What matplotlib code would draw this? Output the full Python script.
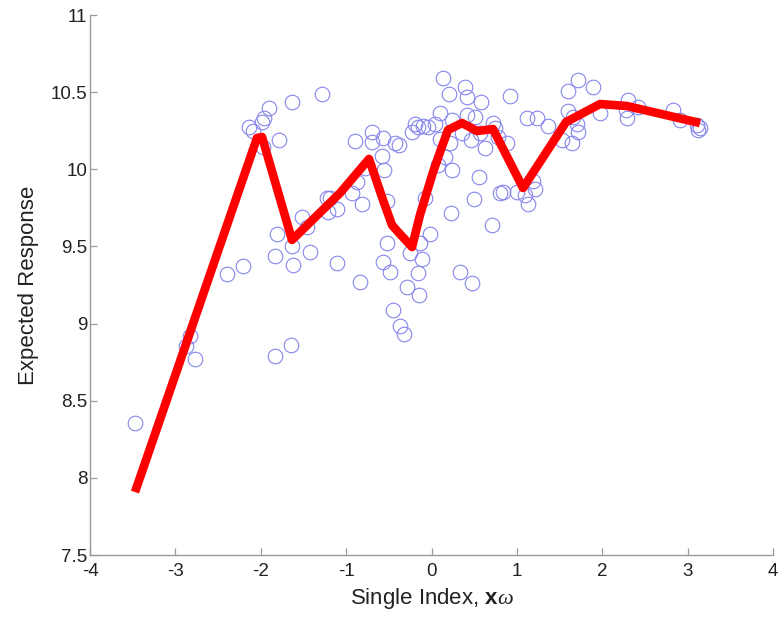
import matplotlib
matplotlib.use("Agg")
import matplotlib.pyplot as plt

plt.rcParams['font.family'] = ['Liberation Sans', 'DejaVu Sans']
plt.rcParams['mathtext.fontset'] = 'custom'
plt.rcParams['mathtext.rm'] = 'Liberation Serif'
plt.rcParams['mathtext.bf'] = 'Liberation Sans:bold'
plt.rcParams['mathtext.it'] = 'Liberation Serif:italic'

# Observed points (single index, response)
obs_x = [-3.473, -2.876, -2.829, -2.770, -2.395, -2.208, -2.138, -2.091, -1.974, -1.985,
         -1.962, -1.903, -1.786, -1.634, -1.283, -1.810, -1.833, -1.634, -1.622, -1.517,
         -1.458, -1.423, -1.833, -1.646, -1.224, -1.189, -1.212, -1.107, -1.107, -0.931,
         -0.873, -0.814, -0.837, -0.896, -0.779, -0.697, -0.697, -0.568, -0.580, -0.556,
         -0.428, -0.381, -0.521, -0.521, -0.568, -0.486, -0.451, -0.369, -0.322, -0.287,
         -0.252, -0.158, -0.146, -0.135, -0.111, -0.018, -0.076, -0.228, -0.193, -0.158,
         -0.100, -0.041, 0.041, 0.135, 0.205, 0.100, 0.100, 0.217, 0.240, 0.158,
         0.076, 0.240, 0.357, 0.392, 0.416, 0.416, 0.463, 0.509, 0.568, 0.580,
         0.627, 0.556, 0.498, 0.228, 0.709, 0.334, 0.474, 0.720, 0.744, 0.779,
         0.884, 0.919, 0.802, 0.837, 1.001, 1.095, 1.130, 1.212, 1.189, 1.119,
         1.236, 1.365, 1.599, 1.716, 1.892, 1.599, 1.657, 1.704, 1.716, 1.646,
         1.529, 1.974, 2.302, 2.419, 2.278, 2.290, 2.829, 2.911, 3.110, 3.145,
         3.122]
obs_y = [8.356, 8.855, 8.920, 8.770, 9.321, 9.373, 10.274, 10.248, 10.144, 10.307,
         10.332, 10.397, 10.190, 10.436, 10.488, 9.581, 9.438, 9.503, 9.380, 9.691,
         9.626, 9.464, 8.790, 8.861, 9.814, 9.814, 9.723, 9.743, 9.393, 9.846,
         9.918, 9.775, 9.270, 10.183, 10.008, 10.242, 10.177, 10.203, 10.086, 9.995,
         10.170, 10.157, 9.794, 9.522, 9.399, 9.334, 9.088, 8.984, 8.932, 9.237,
         9.457, 9.328, 9.185, 9.522, 9.419, 9.581, 9.814, 10.242, 10.294, 10.274,
         10.281, 10.274, 10.294, 10.592, 10.488, 10.365, 10.196, 10.170, 10.319, 10.080,
         10.028, 9.995, 10.235, 10.533, 10.469, 10.352, 10.190, 10.339, 10.235, 10.436,
         10.138, 9.950, 9.807, 9.717, 9.639, 9.334, 9.263, 10.300, 10.268, 10.209,
         10.170, 10.475, 9.846, 9.853, 9.853, 9.833, 9.775, 9.872, 9.924, 10.332,
         10.332, 10.281, 10.507, 10.579, 10.533, 10.378, 10.339, 10.294, 10.242, 10.170,
         10.190, 10.365, 10.449, 10.404, 10.384, 10.332, 10.384, 10.319, 10.287, 10.268,
         10.255]

# Estimated expected response curve
fit_x = [-3.473, -2.044, -1.985, -1.634, -1.072, -0.732, -0.568, -0.463, -0.392, -0.228,
         -0.135, 0.018, 0.100, 0.193, 0.357, 0.533, 0.720, 1.072, 1.575, 1.974,
         2.290, 3.145]
fit_y = [7.908, 10.203, 10.209, 9.542, 9.846, 10.067, 9.801, 9.639, 9.594, 9.496,
         9.704, 9.982, 10.112, 10.255, 10.300, 10.248, 10.261, 9.879, 10.306, 10.423,
         10.410, 10.300]

x_ticks = [-4, -3, -2, -1, 0, 1, 2, 3, 4]
y_ticks = [7.5, 8, 8.5, 9, 9.5, 10, 10.5, 11]
y_tick_labels = ['7.5', '8', '8.5', '9', '9.5', '10', '10.5', '11']

fig = plt.figure(figsize=(7.82, 6.2), dpi=100)
ax = fig.add_axes([0.1151, 0.1048, 0.8734, 0.8710])

ax.plot(obs_x, obs_y, linestyle='none', marker='o', markersize=10.5,
        markerfacecolor='none', markeredgecolor='#8585ec', markeredgewidth=0.8)
ax.plot(fit_x, fit_y, color='#ff0000', linewidth=6.2, solid_joinstyle='round',
        solid_capstyle='butt')

ax.set_xlim(-4, 4)
ax.set_ylim(7.5, 11)
ax.set_xticks(x_ticks)
ax.set_xticklabels([str(t) for t in x_ticks])
ax.set_yticks(y_ticks)
ax.set_yticklabels(y_tick_labels)

for side in ['top', 'right']:
    ax.spines[side].set_visible(False)
for side in ['left', 'bottom']:
    ax.spines[side].set_color('#9a9a9a')
    ax.spines[side].set_linewidth(1.0)

ax.tick_params(direction='in', length=5, width=0.9, color='#9a9a9a',
               labelsize=13.5, labelcolor='#222222')
ax.tick_params(axis='x', pad=6)
ax.tick_params(axis='y', pad=2)

ax.set_xlabel(r'Single Index, $\mathbf{x}\omega$', fontsize=16, color='#222222', labelpad=4)
ax.set_ylabel('Expected Response', fontsize=16, color='#222222', labelpad=8)

fig.savefig('out.png', dpi=100)
